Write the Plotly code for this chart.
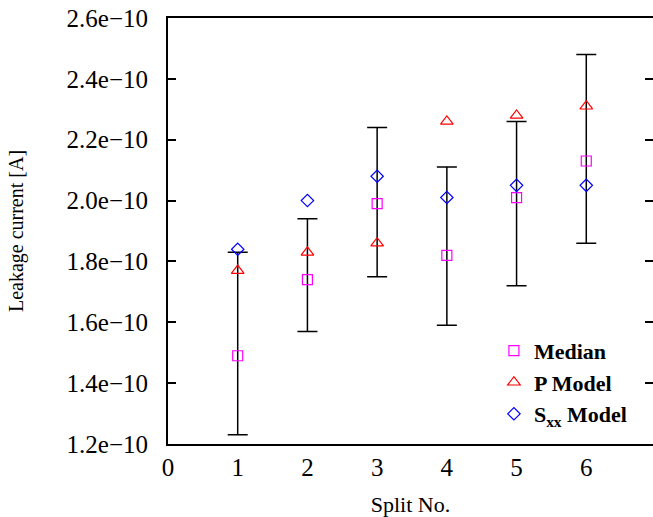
import plotly.graph_objects as go

split_no = [1, 2, 3, 4, 5, 6]
median = [1.49e-10, 1.74e-10, 1.99e-10, 1.82e-10, 2.01e-10, 2.13e-10]
err_high = [1.83e-10, 1.94e-10, 2.24e-10, 2.11e-10, 2.26e-10, 2.48e-10]
err_low = [1.23e-10, 1.57e-10, 1.75e-10, 1.59e-10, 1.72e-10, 1.86e-10]
p_model = [1.77e-10, 1.83e-10, 1.86e-10, 2.26e-10, 2.28e-10, 2.31e-10]
sxx_model = [1.84e-10, 2.00e-10, 2.08e-10, 2.01e-10, 2.05e-10, 2.05e-10]

y_tickvals = [1.2e-10, 1.4e-10, 1.6e-10, 1.8e-10, 2.0e-10, 2.2e-10, 2.4e-10, 2.6e-10]
y_ticktext = ["1.2e\u221210", "1.4e\u221210", "1.6e\u221210", "1.8e\u221210",
              "2.0e\u221210", "2.2e\u221210", "2.4e\u221210", "2.6e\u221210"]
x_tickvals = [0, 1, 2, 3, 4, 5, 6]

FONT = "Liberation Serif"

fig = go.Figure()

fig.add_trace(go.Scatter(
    x=split_no, y=median, mode="markers", name="Median",
    marker=dict(symbol="square-open", size=10, color="#ff00ff", line=dict(width=1.2)),
    error_y=dict(type="data", symmetric=False,
                 array=[h - m for h, m in zip(err_high, median)],
                 arrayminus=[m - l for m, l in zip(median, err_low)],
                 color="black", thickness=1.5, width=10),
))
fig.add_trace(go.Scatter(
    x=split_no, y=p_model, mode="markers", name="P Model",
    marker=dict(symbol="triangle-up-open", size=11, color="#ff0000", line=dict(width=1.2)),
))
fig.add_trace(go.Scatter(
    x=split_no, y=sxx_model, mode="markers", name="S<sub>xx</sub> Model",
    marker=dict(symbol="diamond-open", size=9.5, color="#0000ff", line=dict(width=1.2)),
))
# helper trace for right-side mirrored ticks
fig.add_trace(go.Scatter(
    x=split_no, y=median, yaxis="y2", mode="markers", showlegend=False,
    marker=dict(opacity=0), hoverinfo="skip",
))

fig.update_layout(
    width=653, height=517,
    margin=dict(l=168, r=0, t=18, b=73),
    paper_bgcolor="white", plot_bgcolor="white",
    font=dict(family=FONT, color="black", size=22),
    showlegend=True,
    legend=dict(x=0.672, y=0.268, xanchor="left", yanchor="top",
                bgcolor="rgba(0,0,0,0)", borderwidth=0,
                font=dict(family=FONT, size=22, color="black", weight="bold"),
                tracegroupgap=0, itemwidth=30),
    xaxis=dict(range=[0, 6.957], tickvals=x_tickvals, ticks="", automargin=False,
               showline=True, linecolor="black", linewidth=2, mirror=True,
               showgrid=False, zeroline=False, ticklabeloverflow="allow",
               tickfont=dict(family=FONT, size=25),
               title=dict(text="Split No.", font=dict(family=FONT, size=22), standoff=18)),
    yaxis=dict(range=[1.2e-10, 2.6e-10], tickvals=y_tickvals, ticktext=y_ticktext,
               ticks="inside", ticklen=8, tickwidth=1.5, tickcolor="black", automargin=False,
               showline=True, linecolor="black", linewidth=2, ticklabeloverflow="allow",
               showgrid=False, zeroline=False, ticklabelstandoff=13,
               tickfont=dict(family=FONT, size=25),
               title=dict(text="Leakage current [A]", font=dict(family=FONT, size=20), standoff=38)),
    yaxis2=dict(range=[1.2e-10, 2.6e-10], tickvals=y_tickvals, overlaying="y", side="right",
                ticks="inside", ticklen=8, tickwidth=1.5, tickcolor="black", automargin=False,
                showticklabels=False, showline=False, showgrid=False, zeroline=False),
)

fig.write_html("out.html", config={"displayModeBar": False},
               post_script="document.body.style.margin='0';document.body.style.overflow='hidden';")
